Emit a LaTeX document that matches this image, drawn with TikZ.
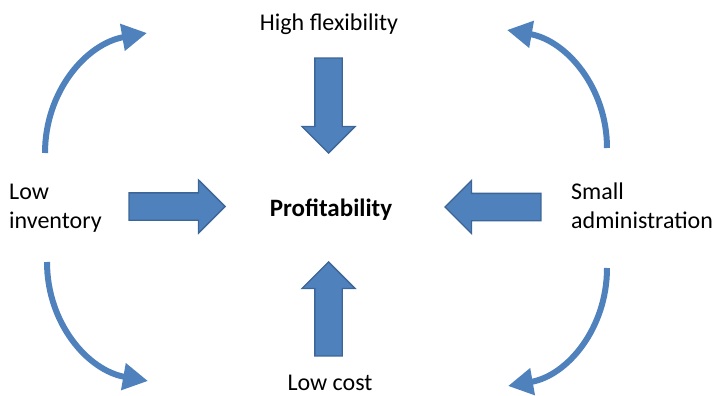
\documentclass[tikz,border=0pt]{standalone}
\usepackage{fontspec}
\setmainfont{Carlito}
\usetikzlibrary{shapes.arrows,arrows.meta}
\definecolor{arrowfill}{HTML}{4F81BD}
\definecolor{arrowedge}{HTML}{3C6696}
\begin{document}
\begin{tikzpicture}[x=1pt,y=-1pt,
  label/.style={font=\fontsize{24}{29}\selectfont,inner sep=0pt},
  blockarrow/.style={single arrow,fill=arrowfill,draw=arrowedge,line width=1.3pt,
    inner sep=13pt,single arrow head extend=13pt,minimum height=#1,anchor=tip},
  cycle/.style={draw=arrowfill,line width=6pt,-{Triangle[length=25pt,width=26pt]}}]
\useasboundingbox (0,0) rectangle (718,396);

% texts
\node[label,anchor=base] (flex) at (329,31) {High flexibility};
\node[label,anchor=base,font=\fontsize{25}{30}\selectfont\bfseries] (profit) at (331,216) {Profitability};
\node[label,anchor=base] (cost) at (330,390) {Low cost};
\node[label,anchor=base west,align=left] (inv) at (9,228) {Low\\inventory};
\node[label,anchor=base west,align=left] (adm) at (571,228) {Small\\administration};

% block arrows pointing at the centre
\node[blockarrow=95pt,shape border rotate=270] (aflex) at (328.5,154) {};
\node[blockarrow=94pt,shape border rotate=90] (acost) at (328.5,261) {};
\node[blockarrow=96pt] (ainv) at (226,206.5) {};
\node[blockarrow=96pt,shape border rotate=180] (aadm) at (444,207) {};

% curved arrows around the outside
\coordinate (tl0) at (45,153);  \coordinate (tl1) at (147,33);
\coordinate (tr0) at (607,148); \coordinate (tr1) at (507,30);
\coordinate (bl0) at (47,262);  \coordinate (bl1) at (148,381);
\coordinate (br0) at (607,268); \coordinate (br1) at (508,386);
\draw[cycle] (tl0) to[out=90,in=190] (tl1);
\draw[cycle] (tr0) to[out=90,in=-10] (tr1);
\draw[cycle] (bl0) to[out=-90,in=170] (bl1);
\draw[cycle] (br0) to[out=-90,in=10] (br1);
\end{tikzpicture}
\end{document}
